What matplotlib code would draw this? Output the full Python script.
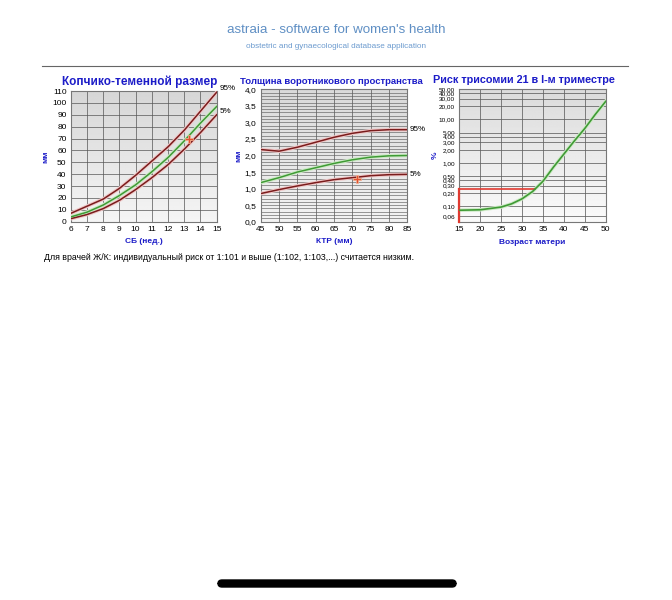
import numpy as np
import matplotlib.pyplot as plt
from matplotlib.ticker import FuncFormatter, FixedLocator, NullLocator
from matplotlib.patches import FancyBboxPatch
from matplotlib.lines import Line2D

plt.rcParams['font.family'] = ['Liberation Sans', 'DejaVu Sans']

# --- Копчико-теменной размер (CRL vs gestational weeks)
crl_weeks = [6, 7, 8, 9, 10, 11, 12, 13, 14, 15]
crl_p95 = [7, 13, 19, 28, 39, 51, 63, 77, 93, 109]
crl_p50 = [4, 8, 14, 22, 31, 42, 54, 68, 83, 97]
crl_p05 = [2.5, 6, 11, 18, 27, 37, 48, 61, 75, 90]
crl_patient = (13.3, 70)

# --- Толщина воротникового пространства (NT vs CRL mm)
nt_crl = [45, 50, 55, 60, 65, 70, 75, 80, 85]
nt_p95 = [2.18, 2.13, 2.25, 2.4, 2.55, 2.67, 2.75, 2.78, 2.78]
nt_p50 = [1.18, 1.33, 1.5, 1.63, 1.76, 1.87, 1.95, 1.99, 2.0]
nt_p05 = [0.85, 0.97, 1.08, 1.18, 1.27, 1.33, 1.39, 1.42, 1.43]
nt_patient = (71.3, 1.3)

# --- Риск трисомии 21 (risk % vs maternal age)
ages = [15, 20, 25, 27.5, 30, 32.5, 35, 37.5, 40, 42.5, 45, 47.5, 50]
risk = [0.082, 0.084, 0.097, 0.115, 0.15, 0.22, 0.38, 0.8, 1.6, 3.2, 6.2, 13, 26]
risk_ticks = [0.06, 0.1, 0.2, 0.3, 0.4, 0.5, 1, 2, 3, 4, 5, 10, 20, 30, 40, 50]
patient_age = 33.1
patient_risk = 0.25

MAROON = '#7a1c1c'
HALO_RED = '#f0c8c8'
GREEN = '#3f9a35'
HALO_GREEN = '#cdeac5'
TITLE_BLUE = '#1c1cc8'

fig = plt.figure(figsize=(6.72, 6.0), dpi=100)

fig.text(0.5, 1 - 30 / 600, "astraia - software for women's health", ha='center', va='center',
         fontsize=9.6, color='#5f8fc4')
fig.text(0.5, 1 - 46 / 600, "obstetric and gynaecological database application", ha='center', va='center',
         fontsize=5.9, color='#6c9bcf')
fig.add_artist(Line2D([42 / 672, 628 / 672], [1 - 66 / 600, 1 - 66 / 600], color='#666666', lw=0.8))


def comma(fmt):
    return FuncFormatter(lambda v, p: (fmt % v).replace('.', ','))


def background(ax, top, bottom):
    grad = np.linspace(bottom, top, 100).reshape(-1, 1)
    ax.imshow(grad, extent=(0, 1, 0, 1), transform=ax.transAxes, origin='lower',
              aspect='auto', cmap='gray', vmin=0, vmax=1, zorder=0)


def curve(ax, x, y, col, halo):
    ax.plot(x, y, color=halo, lw=2.6, zorder=3)
    ax.plot(x, y, color=col, lw=1.1, zorder=4)


def style(ax, title, tsize, tx, xlabel, ylabel, ylpad=4):
    ax.set_title(title, fontsize=tsize, fontweight='bold', color=TITLE_BLUE, pad=4, x=tx)
    ax.set_xlabel(xlabel, fontsize=6, fontweight='bold', color=TITLE_BLUE, labelpad=4)
    ax.set_ylabel(ylabel, fontsize=6, fontweight='bold', color=TITLE_BLUE, labelpad=ylpad)
    ax.tick_params(labelsize=6, length=0, pad=3)
    for s in ax.spines.values():
        s.set_color('#777777')
        s.set_linewidth(0.8)


# chart 1
ax1 = fig.add_axes([70.7 / 672, 1 - 221.7 / 600, 146 / 672, 130.7 / 600])
background(ax1, 0.84, 0.96)
ax1.set_xlim(6, 15)
ax1.set_ylim(0, 110)
ax1.set_xticks(range(6, 16))
ax1.set_yticks(range(0, 111, 10))
ax1.grid(True, color='#555555', lw=0.5, zorder=1)
curve(ax1, crl_weeks, crl_p95, MAROON, HALO_RED)
curve(ax1, crl_weeks, crl_p05, MAROON, HALO_RED)
curve(ax1, crl_weeks, crl_p50, GREEN, HALO_GREEN)
ax1.plot(*crl_patient, marker='P', ms=6, color='#e2502e', mec='#f4b090', mew=0.5, zorder=5)
ax1.text(15.2, crl_p95[-1], '95%', fontsize=5.8, va='bottom', ha='left', clip_on=False)
ax1.text(15.2, crl_p05[-1], '5%', fontsize=5.8, va='bottom', ha='left', clip_on=False)
style(ax1, 'Копчико-теменной размер', 8.5, 0.47, 'СБ (нед.)', 'мм', ylpad=2)

# chart 2
ax2 = fig.add_axes([260.7 / 672, 1 - 221.7 / 600, 146.5 / 672, 132.4 / 600])
background(ax2, 0.85, 0.95)
ax2.set_xlim(45, 85)
ax2.set_ylim(0, 4)
ax2.set_xticks(range(45, 86, 5))
ax2.set_yticks(np.arange(0, 4.01, 0.5))
ax2.yaxis.set_major_formatter(comma('%.1f'))
ax2.yaxis.set_minor_locator(FixedLocator(np.arange(0, 4.01, 0.1)))
ax2.tick_params(which='minor', length=0)
ax2.grid(True, which='both', axis='y', color='#606060', lw=0.45, zorder=1)
ax2.grid(True, axis='x', color='#555555', lw=0.5, zorder=1)
curve(ax2, nt_crl, nt_p95, MAROON, HALO_RED)
curve(ax2, nt_crl, nt_p05, MAROON, HALO_RED)
curve(ax2, nt_crl, nt_p50, GREEN, HALO_GREEN)
ax2.plot(*nt_patient, marker='P', ms=6, color='#e2502e', mec='#f4b090', mew=0.5, zorder=5)
ax2.text(85.6, nt_p95[-1], '95%', fontsize=5.8, va='center', ha='left', clip_on=False)
ax2.text(85.6, nt_p05[-1], '5%', fontsize=5.8, va='center', ha='left', clip_on=False)
style(ax2, 'Толщина воротникового пространства', 6.8, 0.48, 'КТР (мм)', 'мм', ylpad=2)

# chart 3
ax3 = fig.add_axes([459.3 / 672, 1 - 222 / 600, 146.4 / 672, 133 / 600])
background(ax3, 0.86, 0.98)
ax3.set_yscale('log')
ax3.set_xlim(15, 50)
ax3.set_ylim(0.044, 50)
ax3.set_xticks(range(15, 51, 5))
ax3.yaxis.set_major_locator(FixedLocator(risk_ticks))
ax3.yaxis.set_minor_locator(NullLocator())
ax3.yaxis.set_major_formatter(comma('%.2f'))
ax3.grid(True, axis='both', color='#606060', lw=0.55, zorder=1)
ax3.plot([15, patient_age], [patient_risk, patient_risk], color='#e03a30', lw=1.2, zorder=4)
ax3.plot([15, 15], [0.044, patient_risk], color='#e03a30', lw=1.6, zorder=4, clip_on=False)
ax3.plot(ages, risk, color=HALO_GREEN, lw=2.6, zorder=3)
ax3.plot(ages, risk, color=GREEN, lw=1.2, zorder=4)
style(ax3, 'Риск трисомии 21 в I-м триместре', 7.8, 0.44, 'Возраст матери', '%', ylpad=0)
ax3.tick_params(axis='y', labelsize=4.6)

fig.text(44 / 672, 1 - 257 / 600,
         'Для врачей Ж/К: индивидуальный риск от 1:101 и выше (1:102, 1:103,...) считается низким.',
         fontsize=6.3, va='center', ha='left')

fig.add_artist(FancyBboxPatch((218 / 672, 1 - 587 / 600), 238 / 672, 7 / 600,
                              boxstyle='round,pad=0,rounding_size=0.006', color='black',
                              transform=fig.transFigure))

fig.savefig('out.png', dpi=100, facecolor='white')
